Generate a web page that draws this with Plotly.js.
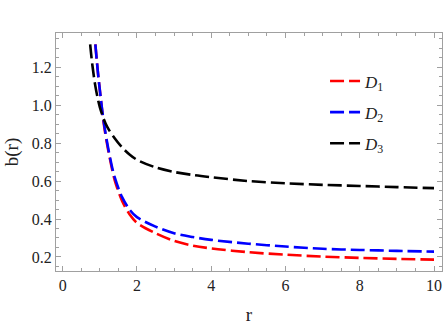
<!DOCTYPE html>
<html>
<head>
<meta charset="utf-8">
<script src="https://cdn.plot.ly/plotly-3.0.1.min.js"></script>
<style>html,body{margin:0;padding:0;background:#fff;}#chart{width:447px;height:327px;}</style>
</head>
<body>
<div id="chart"></div>
<script>
// Values
const r1 = [0.88, 0.95, 1.0, 1.1, 1.2, 1.3, 1.4, 1.6, 1.8, 2.0, 2.5, 3.0, 3.5, 4, 5, 6, 7, 8, 9, 10];
const D1 = [1.32, 1.17, 1.08, 0.91, 0.79, 0.69, 0.605, 0.495, 0.425, 0.38, 0.325, 0.285, 0.26, 0.245, 0.225, 0.212, 0.202, 0.195, 0.19, 0.186];
const r2 = [0.88, 0.95, 1.0, 1.1, 1.2, 1.3, 1.4, 1.6, 1.8, 2.0, 2.5, 3.0, 3.5, 4, 5, 6, 7, 8, 9, 10];
const D2 = [1.32, 1.17, 1.08, 0.92, 0.80, 0.70, 0.62, 0.515, 0.45, 0.41, 0.36, 0.325, 0.305, 0.29, 0.27, 0.255, 0.243, 0.237, 0.232, 0.228];
const r3 = [0.74, 0.8, 0.88, 0.95, 1.0, 1.1, 1.2, 1.4, 1.6, 1.8, 2.0, 2.5, 3.0, 3.5, 4, 5, 6, 7, 8, 9, 10];
const D3 = [1.32, 1.21, 1.10, 1.03, 0.99, 0.93, 0.885, 0.825, 0.777, 0.74, 0.712, 0.672, 0.648, 0.632, 0.62, 0.60, 0.588, 0.58, 0.574, 0.568, 0.5625];
const names = ['<i>D</i><sub>1</sub>', '<i>D</i><sub>2</sub>', '<i>D</i><sub>3</sub>'];
const colors = ['#ff0000', '#0000ff', '#000000'];

const xs = [r1, r2, r3], ys = [D1, D2, D3];
const traces = xs.map((x, i) => ({
  x: x, y: ys[i], type: 'scatter', mode: 'lines', name: names[i],
  legendgroup: 'g' + i,
  line: {color: colors[i], width: 2.6, dash: '14px,5px', shape: 'spline', smoothing: 0.9}
}));

const serif = 'Liberation Serif, Times New Roman, serif';
const axisCommon = {
  showgrid: false, zeroline: false, showline: true, mirror: 'ticks',
  linecolor: '#a0a0a0', linewidth: 1, ticks: 'inside', ticklen: 5, tickcolor: '#a0a0a0',
  tickfont: {family: serif, size: 16, color: '#222'}
};

const layout = {
  width: 447, height: 327,
  margin: {l: 56, r: 5, t: 33, b: 56},
  paper_bgcolor: '#fff', plot_bgcolor: '#fff',
  showlegend: true,
  legend: {x: 0.697, y: 0.872, xanchor: 'left', yanchor: 'top', bgcolor: 'rgba(0,0,0,0)',
    traceorder: 'grouped', tracegroupgap: 6,
    font: {family: serif, size: 17, color: '#222'}},
  xaxis: Object.assign({}, axisCommon, {
    range: [-0.18, 10.215], dtick: 2, tick0: 0,
    minor: {dtick: 0.5, ticklen: 3, tickcolor: '#a0a0a0', ticks: 'inside'},
    title: {text: 'r', standoff: 14, font: {family: serif, size: 19, color: '#222'}}
  }),
  yaxis: Object.assign({}, axisCommon, {
    range: [0.126, 1.38], dtick: 0.2, tick0: 0, tickformat: '.1f',
    minor: {dtick: 0.05, ticklen: 3, tickcolor: '#a0a0a0', ticks: 'inside'},
    title: {text: 'b(r)', standoff: 8, font: {family: serif, size: 19, color: '#222'}}
  })
};

Plotly.newPlot('chart', traces, layout, {staticPlot: true, displayModeBar: false});
</script>
</body>
</html>
